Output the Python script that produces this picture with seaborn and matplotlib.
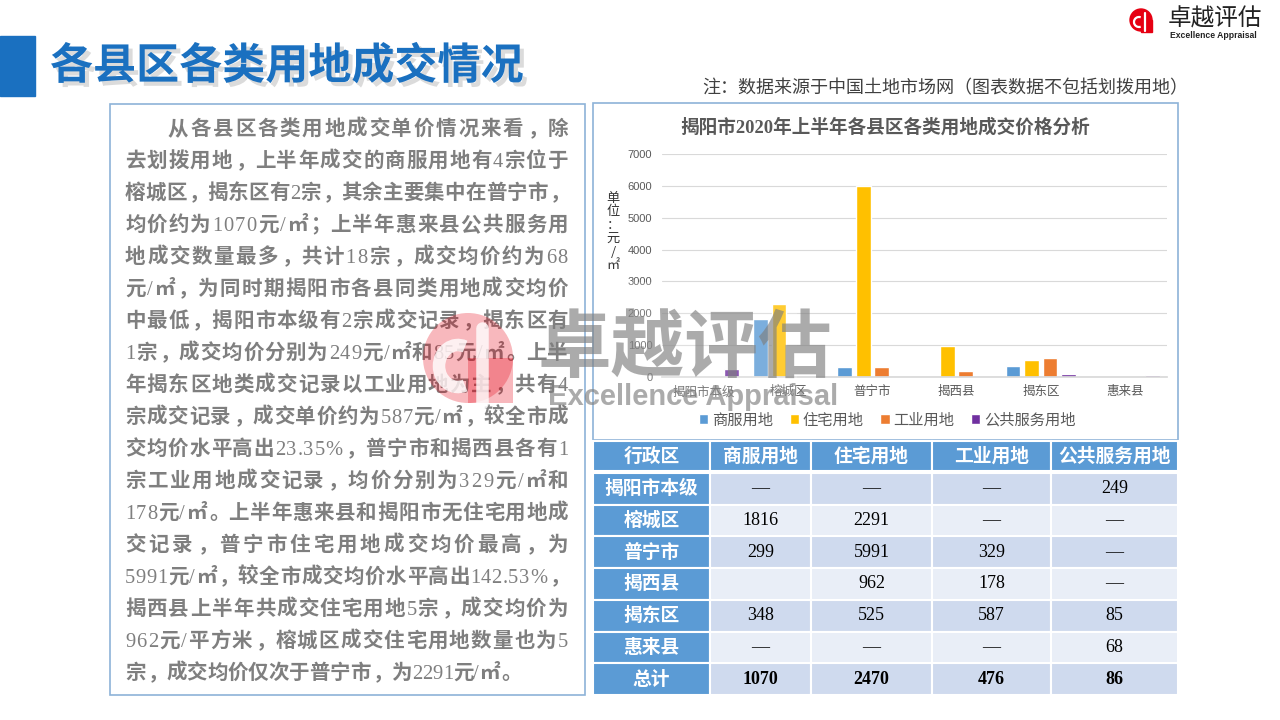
import numpy as np
import pandas as pd
import seaborn as sns
import matplotlib.pyplot as plt
import matplotlib.patheffects as pe
from matplotlib.patches import Rectangle, Circle, Arc

# ---- data ----
districts = ['揭阳市本级', '榕城区', '普宁市', '揭西县', '揭东区', '惠来县']
land_types = ['商服用地', '住宅用地', '工业用地', '公共服务用地']
shangfu = [np.nan, 1816, 299, np.nan, 348, np.nan]
zhuzhai = [np.nan, 2291, 5991, 962, 525, np.nan]
gongye = [np.nan, np.nan, 329, 178, 587, np.nan]
gonggong = [249, np.nan, np.nan, np.nan, 85, 68]
totals = [1070, 2470, 476, 86]
blank_cells = [('揭西县', '商服用地')]
yticks = [0, 1000, 2000, 3000, 4000, 5000, 6000, 7000]
colors = ['#5B9BD5', '#FFC000', '#ED7D31', '#7030A0']

title = '各县区各类用地成交情况'
chart_title = '揭阳市2020年上半年各县区各类用地成交价格分析'
note = '注：数据来源于中国土地市场网（图表数据不包括划拨用地）'
para = [
    '从各县区各类用地成交单价情况来看，除',
    '去划拨用地，上半年成交的商服用地有4宗位于',
    '榕城区，揭东区有2宗，其余主要集中在普宁市，',
    '均价约为1070元/㎡；上半年惠来县公共服务用',
    '地成交数量最多，共计18宗，成交均价约为68',
    '元/㎡，为同时期揭阳市各县同类用地成交均价',
    '中最低，揭阳市本级有2宗成交记录，揭东区有',
    '1宗，成交均价分别为249元/㎡和85元/㎡。上半',
    '年揭东区地类成交记录以工业用地为主，共有4',
    '宗成交记录，成交单价约为587元/㎡，较全市成',
    '交均价水平高出23.35%，普宁市和揭西县各有1',
    '宗工业用地成交记录，均价分别为329元/㎡和',
    '178元/㎡。上半年惠来县和揭阳市无住宅用地成',
    '交记录，普宁市住宅用地成交均价最高，为',
    '5991元/㎡，较全市成交均价水平高出142.53%，',
    '揭西县上半年共成交住宅用地5宗，成交均价为',
    '962元/平方米，榕城区成交住宅用地数量也为5',
    '宗，成交均价仅次于普宁市，为2291元/㎡。',
]

sns.set_theme(style='white')
plt.rcParams['font.family'] = ['Noto Sans CJK SC', 'DejaVu Sans']
SERIF = ['Liberation Serif', 'Noto Sans CJK SC']
BLUE = '#1A70C0'
BORDER = '#8DB3D8'

fig = plt.figure(figsize=(12.8, 7.2), dpi=100)

# background layer in pixel coordinates
bg = fig.add_axes([0, 0, 1, 1], zorder=0)
bg.set_xlim(0, 1280)
bg.set_ylim(720, 0)
bg.axis('off')

# header
bg.add_patch(Rectangle((0, 36), 35, 60, color=BLUE))
bg.text(50, 66, title, fontsize=31, weight='bold', color=BLUE, va='center',
        path_effects=[pe.SimplePatchShadow(offset=(3, -3), shadow_rgbFace='#999999', alpha=0.35), pe.Normal()])

# logo top right
bg.add_patch(Circle((1141, 20), 11, color='#E60012'))
bg.add_patch(Rectangle((1141, 20), 11, 12, color='#E60012'))
bg.add_patch(Arc((1139, 22), 10, 10, theta1=70, theta2=290, color='white', lw=1.6))
bg.plot([1145, 1145], [13, 31], color='white', lw=1.6)
bg.text(1168, 19, '卓越评估', fontsize=17, color='#222222', va='center')
bg.text(1170, 35, 'Excellence Appraisal', fontsize=6.2, weight='bold', color='#222222',
        family=['Liberation Sans'], va='center')

# note
bg.text(702, 88, note, fontsize=13, color='#404040', va='center')

# left text box
bg.add_patch(Rectangle((110, 104), 475, 591, fill=False, ec=BORDER, lw=1.2))
em = 20.5
fs = em * 0.72
grey = '#7F7F7F'
ascii_w = {'/': 0.278, '.': 0.25, '%': 0.833}
for i, line in enumerate(para):
    x0 = 168 if i == 0 else 125
    base = 127.5 + 32 * i + 7.5
    widths = [ascii_w.get(ch, 0.5) * em if ord(ch) < 128 else em for ch in line]
    gap = 0 if i == len(para) - 1 else (568 - x0 - sum(widths)) / (len(line) - 1)
    x = x0
    for ch, w in zip(line, widths):
        if ord(ch) < 128:
            bg.text(x + w / 2, base, ch, ha='center', va='baseline', fontsize=fs,
                    family=SERIF, color=grey)
        elif ch in '，。；：':
            bg.text(x + 0.1 * em, base, ch, ha='left', va='baseline', fontsize=fs,
                    weight='bold', color=grey)
        else:
            bg.text(x + w / 2, base, ch, ha='center', va='baseline', fontsize=fs,
                    weight='bold', color=grey)
        x += w + gap

# chart box
bg.add_patch(Rectangle((593, 103), 585, 337, fill=False, ec=BORDER, lw=1.2))
bg.text(885, 127, chart_title, fontsize=13.4, weight='bold', color='#595959',
        family=SERIF, ha='center', va='center')
bg.text(613, 232, '单\n位\n：\n元\n/\n㎡', fontsize=9.5, color='#333333',
        ha='center', va='center', linespacing=1.05)

# table
col_x = [593, 710, 811, 932, 1051, 1178]
head_labels = ['行政区'] + land_types
for j, lab in enumerate(head_labels):
    bg.add_patch(Rectangle((col_x[j], 441), col_x[j + 1] - col_x[j], 30,
                           fc='#5B9BD5', ec='white', lw=1.5))
    bg.text((col_x[j] + col_x[j + 1]) / 2, 456, lab, fontsize=13.5, weight='bold',
            color='white', ha='center', va='center')
series = [shangfu, zhuzhai, gongye, gonggong]
row_names = districts + ['总计']
row_h = 31.7
for i, name in enumerate(row_names):
    top = 473 + row_h * i
    cy = top + row_h / 2
    fill = '#CFDAEE' if i % 2 == 0 else '#E9EEF7'
    bg.add_patch(Rectangle((col_x[0], top), col_x[1] - col_x[0], row_h,
                           fc='#5B9BD5', ec='white', lw=1.5))
    bg.text((col_x[0] + col_x[1]) / 2, cy, name, fontsize=13.5, weight='bold',
            color='white', ha='center', va='center')
    for j, t in enumerate(land_types):
        bg.add_patch(Rectangle((col_x[j + 1], top), col_x[j + 2] - col_x[j + 1], row_h,
                               fc=fill, ec='white', lw=1.5))
        if i < len(districts):
            v = series[j][i]
            if (name, t) in blank_cells:
                s = ''
            elif np.isnan(v):
                s = '—'
            else:
                s = str(int(v))
            wt = 'normal'
        else:
            s = str(totals[j])
            wt = 'bold'
        bg.text((col_x[j + 1] + col_x[j + 2]) / 2, cy, s, fontsize=13, weight=wt,
                family=SERIF, color='black', ha='center', va='center')

# ---- bar chart ----
df = pd.DataFrame({
    '区县': districts * 4,
    '类型': np.repeat(land_types, len(districts)),
    '价格': shangfu + zhuzhai + gongye + gonggong,
})
ax = fig.add_axes([662 / 1280, (720 - 377) / 720, 505 / 1280, 223 / 720], zorder=1)
ax.set_facecolor('none')
sns.barplot(data=df, x='区县', y='价格', hue='类型', order=districts, hue_order=land_types,
            palette=colors, saturation=1, width=0.88, gap=0.2, errorbar=None, ax=ax)
ax.set_ylim(0, 7000)
ax.set_yticks(yticks)
ax.set_yticklabels([str(v) for v in yticks], family=['Liberation Sans'], fontsize=8, color='#595959')
ax.set_xticks(range(len(districts)))
ax.set_xticklabels(districts, fontsize=9, color='#595959')
ax.set_xlabel('')
ax.set_ylabel('')
ax.yaxis.grid(True, color='#D9D9D9', lw=0.8)
ax.set_axisbelow(True)
for side in ['left', 'top', 'right']:
    ax.spines[side].set_visible(False)
ax.spines['bottom'].set_color('#D9D9D9')
ax.tick_params(axis='both', length=0)
ax.tick_params(axis='y', pad=7)
ax.tick_params(axis='x', pad=6)
sns.move_legend(ax, 'center', bbox_to_anchor=(0.446, -0.193), ncol=4, frameon=False,
                title=None, fontsize=11, handlelength=0.6, handleheight=0.6,
                handletextpad=0.25, columnspacing=1.1, labelcolor='#595959')

# ---- watermark on top ----
wm = fig.add_axes([0, 0, 1, 1], zorder=2)
wm.set_facecolor('none')
wm.set_xlim(0, 1280)
wm.set_ylim(720, 0)
wm.axis('off')
wm.add_patch(Rectangle((595, 282), 202, 130, color='white', alpha=0.2, lw=0))
wm.add_patch(Circle((468, 358), 45, color='#E60012', alpha=0.28, lw=0))
wm.add_patch(Rectangle((468, 358), 45, 45, color='#E60012', alpha=0.28, lw=0))
wm.add_patch(Arc((458, 366), 38, 42, theta1=70, theta2=290, color='white', lw=9, alpha=0.8))
wm.plot([482, 482], [328, 403], color='white', lw=9, alpha=0.8)
wm.text(538, 350, '卓越评估', fontsize=53, weight='bold', color='#7F7F7F', alpha=0.65, va='center')
wm.text(548, 397, 'Excellence Appraisal', fontsize=21, weight='bold', color='#7F7F7F',
        alpha=0.65, family=['Liberation Sans'], va='center')

fig.savefig('out.png', dpi=100)
